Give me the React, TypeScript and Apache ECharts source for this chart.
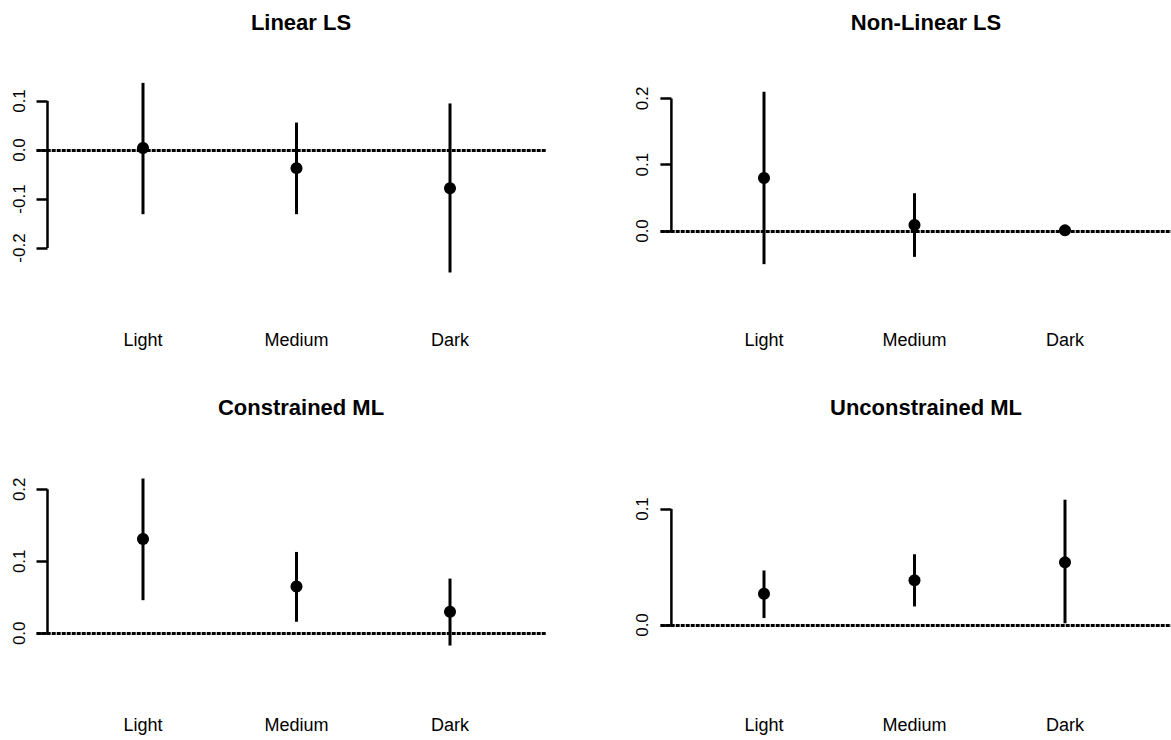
import React, { useEffect, useRef } from "react";
import * as echarts from "echarts";

const categories = ["Light", "Medium", "Dark"];

const titles = ["Linear LS", "Non-Linear LS", "Constrained ML", "Unconstrained ML"];

const linearMean = [0.004, -0.037, -0.078];
const linearLow = [-0.131, -0.131, -0.25];
const linearHigh = [0.137, 0.056, 0.095];

const nonLinearMean = [0.08, 0.009, 0.001];
const nonLinearLow = [-0.05, -0.039, -0.001];
const nonLinearHigh = [0.21, 0.057, 0.003];

const constrainedMean = [0.131, 0.065, 0.03];
const constrainedLow = [0.046, 0.016, -0.017];
const constrainedHigh = [0.215, 0.113, 0.076];

const unconstrainedMean = [0.027, 0.0385, 0.054];
const unconstrainedLow = [0.006, 0.016, 0.0015];
const unconstrainedHigh = [0.047, 0.061, 0.108];

const linearTicks = [-0.2, -0.1, 0, 0.1];
const nonLinearTicks = [0, 0.1, 0.2];
const constrainedTicks = [0, 0.1, 0.2];
const unconstrainedTicks = [0, 0.1];

const seriesData = [
  { mean: linearMean, low: linearLow, high: linearHigh, ticks: linearTicks },
  { mean: nonLinearMean, low: nonLinearLow, high: nonLinearHigh, ticks: nonLinearTicks },
  { mean: constrainedMean, low: constrainedLow, high: constrainedHigh, ticks: constrainedTicks },
  { mean: unconstrainedMean, low: unconstrainedLow, high: unconstrainedHigh, ticks: unconstrainedTicks },
];

// layout (pixels)
const layouts = [
  { left: 36.7, right: 545.7, axisPx: 47.5, cat1Px: 143, pxX: 153.5, top: 40, bottom: 300, zeroPx: 150, pxY: 490, titleX: 296, titleY: 6 },
  { left: 660.7, right: 1171, axisPx: 671.4, cat1Px: 764, pxX: 150.5, top: 40, bottom: 300, zeroPx: 231, pxY: 663, titleX: 921, titleY: 6 },
  { left: 36.7, right: 545.7, axisPx: 47.5, cat1Px: 143, pxX: 153.5, top: 425, bottom: 685, zeroPx: 633.3, pxY: 720, titleX: 296, titleY: 391 },
  { left: 660.7, right: 1171, axisPx: 671.4, cat1Px: 764, pxX: 150.5, top: 425, bottom: 685, zeroPx: 625, pxY: 1160, titleX: 921, titleY: 391 },
];

const FONT = "Liberation Sans";

function buildOption() {
  const grid: any[] = [];
  const xAxis: any[] = [];
  const yAxis: any[] = [];
  const series: any[] = [];
  const title: any[] = [];

  layouts.forEach((L, i) => {
    const d = seriesData[i];
    const xMin = 1 - (L.cat1Px - L.left) / L.pxX;
    const xMax = 1 + (L.right - L.cat1Px) / L.pxX;
    const axisX = 1 - (L.cat1Px - L.axisPx) / L.pxX;
    const yMax = (L.zeroPx - L.top) / L.pxY;
    const yMin = -(L.bottom - L.zeroPx) / L.pxY;

    grid.push({ left: L.left, top: L.top, width: L.right - L.left, height: L.bottom - L.top, containLabel: false });
    title.push({
      text: titles[i],
      left: L.titleX,
      top: L.titleY,
      textAlign: "center",
      textStyle: { fontFamily: FONT, fontWeight: "bold", fontSize: 22, color: "#000" },
    });
    xAxis.push({
      type: "value",
      gridIndex: i,
      min: xMin,
      max: xMax,
      axisLine: { show: false },
      axisTick: { show: false },
      splitLine: { show: false },
      axisLabel: {
        customValues: [1, 2, 3],
        formatter: (v: number) => categories[Math.round(v) - 1] ?? "",
        fontFamily: FONT,
        fontSize: 18,
        color: "#000",
        margin: 31,
      },
    });
    yAxis.push({
      type: "value",
      gridIndex: i,
      min: yMin,
      max: yMax,
      offset: -(L.axisPx - L.left),
      axisLine: { show: false },
      splitLine: { show: false },
      axisTick: {
        show: true,
        customValues: d.ticks,
        length: 11,
        lineStyle: { color: "#000", width: 2.5 },
      },
      axisLabel: {
        customValues: d.ticks,
        formatter: (v: number) => v.toFixed(1),
        rotate: 90,
        margin: 20,
        fontFamily: FONT,
        fontSize: 17,
        color: "#000",
      },
    });

    const tMin = Math.min(...d.ticks);
    const tMax = Math.max(...d.ticks);
    series.push({
      type: "line",
      xAxisIndex: i,
      yAxisIndex: i,
      data: [
        [axisX, tMin],
        [axisX, tMax],
      ],
      symbol: "none",
      silent: true,
      z: 3,
      lineStyle: { color: "#000", width: 2.5 },
      markLine: {
        silent: true,
        symbol: "none",
        label: { show: false },
        lineStyle: { color: "#000", width: 3, type: [4, 1], opacity: 1 },
        data: [{ yAxis: 0 }],
      },
    });
    series.push({
      type: "custom",
      xAxisIndex: i,
      yAxisIndex: i,
      z: 4,
      silent: true,
      data: categories.map((_, j) => [j + 1, d.low[j], d.high[j]]),
      encode: { x: 0, y: [1, 2] },
      renderItem: (params: any, api: any) => {
        const x = api.value(0);
        const p1 = api.coord([x, api.value(1)]);
        const p2 = api.coord([x, api.value(2)]);
        return {
          type: "line",
          shape: { x1: p1[0], y1: p1[1], x2: p2[0], y2: p2[1] },
          style: { stroke: "#000", lineWidth: 3 },
        };
      },
    });
    series.push({
      type: "scatter",
      xAxisIndex: i,
      yAxisIndex: i,
      z: 5,
      silent: true,
      symbol: "circle",
      symbolSize: 12,
      itemStyle: { color: "#000", opacity: 1 },
      data: categories.map((_, j) => [j + 1, d.mean[j]]),
    });
  });

  return {
    animation: false,
    backgroundColor: "#fff",
    title,
    grid,
    xAxis,
    yAxis,
    series,
  };
}

export default function App() {
  const ref = useRef<HTMLDivElement>(null);
  useEffect(() => {
    if (!ref.current) return;
    const chart = echarts.init(ref.current, undefined, { renderer: "svg" });
    chart.setOption(buildOption() as any);
    return () => chart.dispose();
  }, []);
  return (
    <div
      ref={ref}
      style={{ position: "fixed", left: 0, top: 0, width: 1171, height: 740, background: "#fff" }}
    />
  );
}
